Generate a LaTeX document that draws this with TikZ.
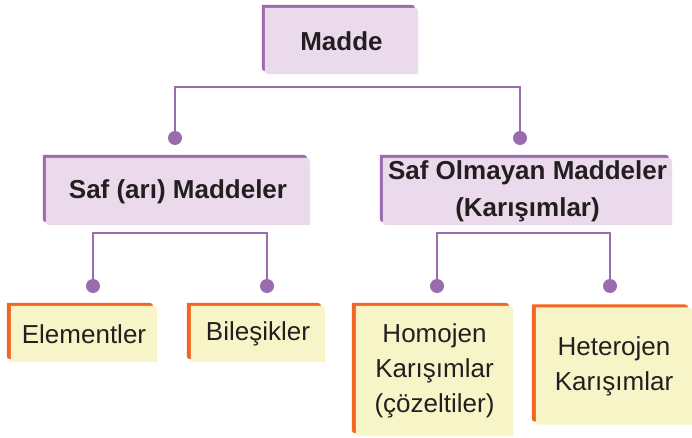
\documentclass[tikz,border=0pt]{standalone}
\usepackage{fontspec}
\setmainfont{Liberation Sans}
\usetikzlibrary{backgrounds}
\definecolor{pdark}{HTML}{9B6BB0}
\definecolor{plight}{HTML}{EBDAEB}
\definecolor{odark}{HTML}{F26522}
\definecolor{olight}{HTML}{F7F5C8}
\definecolor{txt}{HTML}{231F20}
\newcommand\boxpath[3]{([shift={(#2,#3)}]#1.north west) -- ([shift={(#2-8pt,#3)}]#1.north east) .. controls ([shift={(#2,#3)}]#1.north east) .. ([shift={(#2,#3-8pt)}]#1.north east) -- ([shift={(#2,#3)}]#1.south east) -- ([shift={(#2+7pt,#3)}]#1.south west) .. controls ([shift={(#2,#3)}]#1.south west) .. ([shift={(#2,#3+7pt)}]#1.south west) -- cycle}
\begin{document}
\begin{tikzpicture}[x=1pt,y=-1pt,
  box/.style={inner sep=0pt, align=center, text=txt, font=\fontsize{26}{35}\selectfont},
  pbox/.style={box, font=\bfseries\fontsize{26}{37}\selectfont},
  link/.style={pdark, line width=2.6pt},
  dot/.style={pdark}]
\useasboundingbox (0,0) rectangle (692,438);
% purple boxes
\node[pbox, minimum width=153pt, minimum height=66pt] (madde) at (341.5,41) {Madde};
\node[pbox, minimum width=264pt, minimum height=67pt] (saf) at (178,191.5) {Saf (arı) Maddeler};
\node[pbox, minimum width=289pt, minimum height=67pt] (karisim) at (527.5,191.5) {Saf Olmayan Maddeler\\(Karışımlar)};
% yellow boxes
\node[box, minimum width=146pt, minimum height=56pt] (element) at (84,334) {Elementler};
\node[box, minimum width=134pt, minimum height=56pt] (bilesik) at (258,334) {Bileşikler};
\node[box, minimum width=157pt, minimum height=130pt] (homojen) at (434.5,371) {Homojen\\Karışımlar\\(çözeltiler)};
\node[box, minimum width=156pt, minimum height=117pt] (hetero) at (614,366) {Heterojen\\Karışımlar};
\begin{scope}[on background layer]
  \foreach \n in {madde,saf,karisim}{
    \fill[pdark] \boxpath{\n}{-3pt}{3pt};
    \fill[plight] \boxpath{\n}{0pt}{0pt};
  }
  \foreach \n in {element,bilesik,homojen,hetero}{
    \fill[odark] \boxpath{\n}{-4pt}{3pt};
    \fill[olight] \boxpath{\n}{0pt}{0pt};
  }
\end{scope}
% connectors
\coordinate (t1) at (347,87);
\coordinate (d1) at (175,138);
\coordinate (d2) at (520,138);
\coordinate (t2) at (180,233);
\coordinate (d3) at (93,286);
\coordinate (d4) at (267,286);
\coordinate (t3) at (523,233);
\coordinate (d5) at (437,286);
\coordinate (d6) at (610,286);
\draw[link] (d1) |- (t1) -| (d2);
\draw[link] (d3) |- (t2) -| (d4);
\draw[link] (d5) |- (t3) -| (d6);
\foreach \d in {d1,d2,d3,d4,d5,d6}{\fill[dot] (\d) circle (7pt);}
\end{tikzpicture}
\end{document}
